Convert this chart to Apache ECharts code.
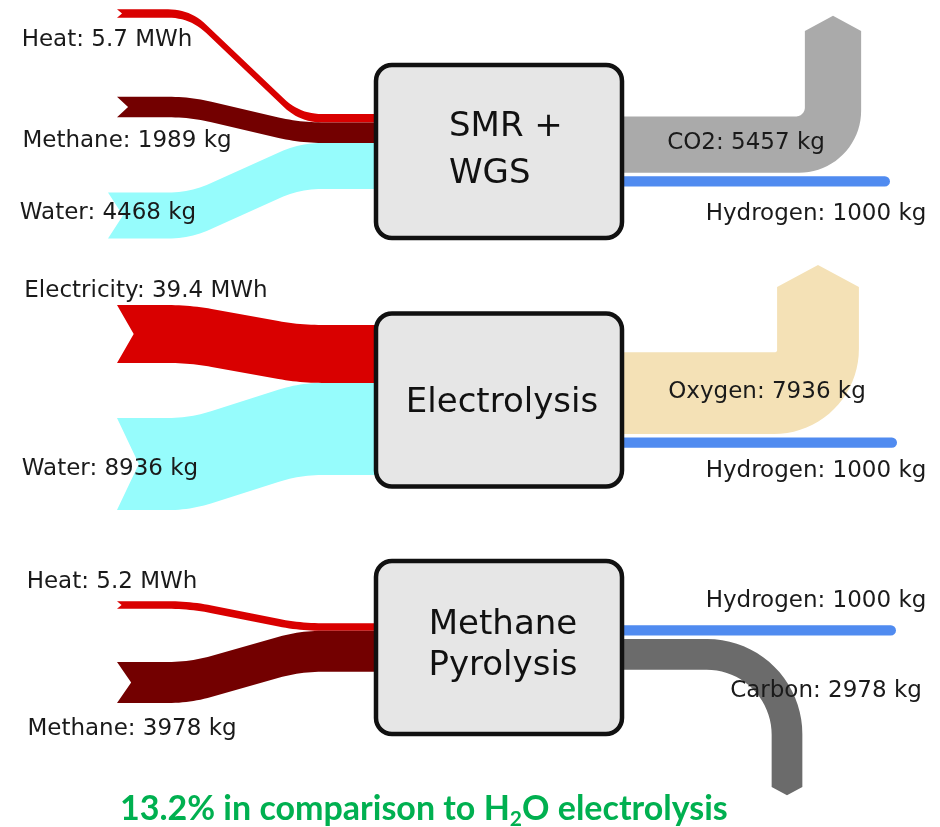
<!DOCTYPE html>
<html>
<head>
<meta charset="utf-8">
<title>Hydrogen production routes</title>
<script src="https://cdn.jsdelivr.net/npm/echarts@6/dist/echarts.min.js"></script>
<style>
  html, body { margin: 0; padding: 0; background: #fff; }
  #chart { width: 940px; height: 827px; }
</style>
</head>
<body>
<div id="chart"></div>
<script>
// process boxes
const processNames = ['SMR +\nWGS', 'Electrolysis', 'Methane\nPyrolysis'];

// one entry per arrow
const flowNames = ['Heat', 'Methane', 'Water', 'CO2', 'Hydrogen',
  'Electricity', 'Water', 'Oxygen', 'Hydrogen',
  'Heat', 'Methane', 'Hydrogen', 'Carbon'];
const flowValues = [5.7, 1989, 4468, 5457, 1000, 39.4, 8936, 7936, 1000, 5.2, 3978, 1000, 2978];
const flowUnits = ['MWh', 'kg', 'kg', 'kg', 'kg', 'MWh', 'kg', 'kg', 'kg', 'MWh', 'kg', 'kg', 'kg'];
const flowProcess = [0, 0, 0, 0, 0, 1, 1, 1, 1, 2, 2, 2, 2];
const flowSide = ['in', 'in', 'in', 'out', 'out', 'in', 'in', 'out', 'out', 'in', 'in', 'out', 'out'];

const noteParts = ['13.2% in comparison to H', '2', 'O electrolysis'];

// ---- layout, in canvas units (y down) ----
const box = { left: 376, right: 622, height: 173, radius: 16 };
const boxCenterY = [151.5, 400, 647.5];
const boxText = [
  { x: 449, y: 151, align: 'left', lineHeight: 47 },
  { x: 502, y: 403, align: 'center', lineHeight: 40 },
  { x: 503, y: 646, align: 'center', lineHeight: 41 }
];
const unitScale = { kg: 1 / 97, MWh: 1.47 };   // band width per unit
const outGap = 3.5;
const bendStart = 190, bendEnd = 300;

// loose end of each band and where its label sits
const flowLayout = [
  { tailX: 117, tailY: 13.5, label: [107, 40] },
  { tailX: 117, tailY: 107, label: [127, 141] },
  { tailX: 108, tailY: 215.5, label: [108, 213] },
  { bendX: 833, tipY: 31, innerR: 9, outerR: 62, label: [746, 143] },
  { endX: 890, label: [816, 214] },
  { tailX: 117, tailY: 334, label: [146, 291] },
  { tailX: 117, tailY: 464, label: [110, 469] },
  { bendX: 818, tipY: 287, innerR: 2, outerR: 85, label: [767, 392] },
  { endX: 897, label: [816, 471] },
  { tailX: 117, tailY: 605, label: [112, 582] },
  { tailX: 117, tailY: 682.5, label: [132, 729] },
  { endX: 896, label: [816, 601] },
  { bendX: 787, tipY: 787, innerR: 65, outerR: 95, label: [826, 691] }
];

const flowColors = {
  Heat: '#d90000', Electricity: '#d90000', Methane: '#730000', Water: '#96fcfc',
  CO2: '#aaaaaa', Hydrogen: '#508bf0', Oxygen: '#f4e1b6', Carbon: '#6b6b6b'
};

// band widths and where each band meets its box (stacked, centred on the box)
const thickness = flowValues.map((v, i) => v * unitScale[flowUnits[i]]);
const centerY = [];
processNames.forEach((_, p) => {
  ['in', 'out'].forEach(side => {
    const idx = flowProcess.map((q, i) => i).filter(i => flowProcess[i] === p && flowSide[i] === side);
    const gap = side === 'out' ? outGap : 0;
    const total = idx.reduce((s, i) => s + thickness[i], 0) + gap * (idx.length - 1);
    let y = boxCenterY[p] - total / 2;
    idx.forEach(i => { centerY[i] = y + thickness[i] / 2; y += thickness[i] + gap; });
  });
});

function roundCorners(pts, r, steps) {
  const out = [pts[0]];
  for (let k = 1; k < pts.length - 1; k++) {
    const p0 = pts[k - 1], p1 = pts[k], p2 = pts[k + 1];
    const d1 = Math.hypot(p1[0] - p0[0], p1[1] - p0[1]);
    const d2 = Math.hypot(p2[0] - p1[0], p2[1] - p1[1]);
    const r1 = Math.min(r, d1 / 2), r2 = Math.min(r, d2 / 2);
    const a = [p1[0] + (p0[0] - p1[0]) * r1 / d1, p1[1] + (p0[1] - p1[1]) * r1 / d1];
    const b = [p1[0] + (p2[0] - p1[0]) * r2 / d2, p1[1] + (p2[1] - p1[1]) * r2 / d2];
    for (let s = 0; s <= steps; s++) {
      const t = s / steps;
      out.push([
        (1 - t) * (1 - t) * a[0] + 2 * (1 - t) * t * p1[0] + t * t * b[0],
        (1 - t) * (1 - t) * a[1] + 2 * (1 - t) * t * p1[1] + t * t * b[1]
      ]);
    }
  }
  out.push(pts[pts.length - 1]);
  return out;
}

function renderFlow(params, api) {
  const i = api.value(0);
  const lay = flowLayout[i];
  const w = thickness[i];
  const cy = centerY[i];
  const color = flowColors[flowNames[i]];
  const px = p => api.coord(p);
  let points;

  if (flowSide[i] === 'in') {
    const line = roundCorners([[lay.tailX, lay.tailY], [bendStart, lay.tailY], [bendEnd, cy], [box.left + 6, cy]], 22, 12);
    const top = line.map(p => [p[0], p[1] - w / 2]);
    const bottom = line.map(p => [p[0], p[1] + w / 2]).reverse();
    const notch = Math.min(0.6 * w, 8 + 0.15 * w);
    points = top.concat(bottom, [[lay.tailX + notch, lay.tailY]]);
  } else if (lay.endX) {
    const a = px([box.right - 6, cy]);
    const b = px([lay.endX - w / 2, cy]);
    return {
      type: 'line',
      shape: { x1: a[0], y1: a[1], x2: b[0], y2: b[1] },
      style: { stroke: color, lineWidth: api.size([0, w])[1], lineCap: 'round' }
    };
  } else {
    const dir = lay.tipY > cy ? 1 : -1;
    const xv = lay.bendX;
    const ri = lay.innerR, ro = lay.outerR;
    const icx = xv - w / 2 - ri, icy = cy + dir * (w / 2 + ri);
    const ocx = xv + w / 2 - ro, ocy = cy - dir * w / 2 + dir * ro;
    const arc = (cx, ccy, R, from, to) => {
      const pts = [];
      for (let s = 0; s <= 20; s++) {
        const f = from + (to - from) * s / 20;
        pts.push([cx + R * Math.sin(f), ccy - dir * R * Math.cos(f)]);
      }
      return pts;
    };
    const head = 0.27 * w;
    points = [[box.right - 6, cy + dir * w / 2]]
      .concat(arc(icx, icy, ri, 0, Math.PI / 2))
      .concat([[xv - w / 2, lay.tipY], [xv, lay.tipY + dir * head], [xv + w / 2, lay.tipY]])
      .concat(arc(ocx, ocy, ro, Math.PI / 2, 0))
      .concat([[box.right - 6, cy - dir * w / 2]]);
  }
  return { type: 'polygon', shape: { points: points.map(px) }, style: { fill: color } };
}

function renderBox(params, api) {
  const i = api.value(0);
  const cy = api.value(1);
  const tl = api.coord([box.left, cy - box.height / 2]);
  const size = api.size([box.right - box.left, box.height]);
  const t = boxText[i];
  const tp = api.coord([t.x, t.y]);
  return {
    type: 'group',
    children: [
      {
        type: 'rect',
        shape: { x: tl[0], y: tl[1], width: size[0], height: size[1], r: box.radius },
        style: { fill: '#e6e6e6', stroke: '#111', lineWidth: 4.5 }
      },
      {
        type: 'text', x: tp[0], y: tp[1],
        style: {
          text: processNames[i], fontSize: 34, fontFamily: 'DejaVu Sans', fill: '#111',
          align: t.align, verticalAlign: 'middle', lineHeight: t.lineHeight
        }
      }
    ]
  };
}

function renderLabel(params, api) {
  const i = api.value(0);
  const p = api.coord(flowLayout[i].label);
  return {
    type: 'text', x: p[0], y: p[1],
    style: {
      text: flowNames[i] + ': ' + flowValues[i] + ' ' + flowUnits[i],
      fontSize: 23, fontFamily: 'DejaVu Sans', fill: '#1a1a1a',
      align: 'center', verticalAlign: 'middle'
    }
  };
}

const chart = echarts.init(document.getElementById('chart'));

const noteFont = { fontFamily: 'Lato', fontWeight: 'bold', color: '#00b050' };
chart.setOption({
  animation: false,
  title: {
    text: '{a|' + noteParts[0] + '}{s|' + noteParts[1] + '}{a|' + noteParts[2] + '}',
    left: 120,
    top: 788,
    padding: 0,
    textStyle: {
      rich: {
        a: Object.assign({ fontSize: 34, lineHeight: 42 }, noteFont),
        s: Object.assign({ fontSize: 21, lineHeight: 21, verticalAlign: 'bottom' }, noteFont)
      }
    }
  },
  grid: { left: 0, right: 0, top: 0, bottom: 0 },
  xAxis: { type: 'value', min: 0, max: 940, show: false },
  yAxis: { type: 'value', min: 0, max: 827, inverse: true, show: false },
  series: [
    {
      type: 'custom', z: 1, silent: true, clip: false,
      renderItem: renderFlow,
      data: flowValues.map((v, i) => [i, v])
    },
    {
      type: 'custom', z: 2, silent: true, clip: false,
      renderItem: renderBox,
      data: processNames.map((n, i) => [i, boxCenterY[i]])
    },
    {
      type: 'custom', z: 3, silent: true, clip: false,
      renderItem: renderLabel,
      data: flowValues.map((v, i) => [i, v])
    }
  ]
});

window.addEventListener('resize', () => chart.resize());
</script>
</body>
</html>
